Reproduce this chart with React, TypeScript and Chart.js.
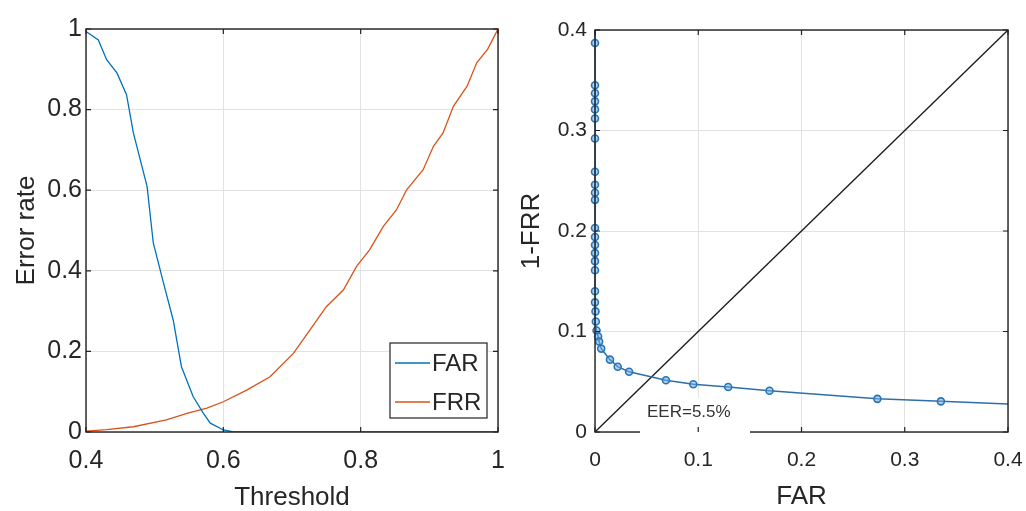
import React, { useEffect, useRef } from "react";
import { Chart, registerables } from "chart.js";
Chart.register(...registerables);

const FONT = "'Liberation Sans', Arial, Helvetica, sans-serif";
const TEXT = "#262626";
const GRID = "#e2e2e2";
const BLUE = "#0072BD";
const ORANGE = "#D95319";

// ---- Left panel: error rates vs threshold ----
const farThreshold = [0.4, 0.418, 0.43, 0.445, 0.459, 0.469, 0.489, 0.498, 0.513, 0.527, 0.539, 0.556, 0.571, 0.581, 0.6, 0.615, 1.0];
const farValues = [0.994, 0.973, 0.924, 0.891, 0.837, 0.742, 0.609, 0.469, 0.369, 0.278, 0.162, 0.088, 0.046, 0.022, 0.005, 0, 0];
const frrThreshold = [0.4, 0.43, 0.469, 0.517, 0.547, 0.576, 0.6, 0.634, 0.668, 0.702, 0.726, 0.75, 0.775, 0.794, 0.813, 0.833, 0.852, 0.867, 0.891, 0.906, 0.92, 0.935, 0.955, 0.969, 0.985, 1.0];
const frrValues = [0.002, 0.006, 0.013, 0.03, 0.046, 0.059, 0.075, 0.104, 0.137, 0.195, 0.253, 0.311, 0.353, 0.411, 0.452, 0.51, 0.551, 0.601, 0.651, 0.709, 0.742, 0.808, 0.858, 0.916, 0.95, 1.0];
const leftXTicks = [0.4, 0.6, 0.8, 1];
const leftYTicks = [0, 0.2, 0.4, 0.6, 0.8, 1];

// ---- Right panel: ROC (FAR vs 1-FRR) ----
const rocFar = [0, 0, 0, 0, 0, 0, 0, 0, 0, 0, 0, 0, 0, 0, 0, 0, 0, 0, 0, 0, 0.0005, 0.0008, 0.0015, 0.003, 0.004, 0.006, 0.0145, 0.022, 0.033, 0.0687, 0.0952, 0.129, 0.169, 0.2735, 0.335, 0.45];
const rocGar = [0.45, 0.387, 0.345, 0.337, 0.329, 0.321, 0.312, 0.292, 0.259, 0.246, 0.238, 0.231, 0.203, 0.194, 0.186, 0.178, 0.17, 0.161, 0.14, 0.129, 0.12, 0.11, 0.101, 0.095, 0.09, 0.083, 0.072, 0.065, 0.06, 0.0515, 0.0475, 0.0448, 0.041, 0.033, 0.0305, 0.026];
const diagFar = [0, 0.4];
const diagGar = [0, 0.4];
const rightTicks = [0, 0.1, 0.2, 0.3, 0.4];
const eerLabel = "EER=5.5%";

type Extra = (chart: any) => void;

function framePlugin(extraBeforeTicks?: Extra) {
  return {
    id: "frame",
    afterDatasetsDraw(chart: any) {
      const { ctx, chartArea: a, scales } = chart;
      ctx.save();
      ctx.strokeStyle = "#222";
      ctx.lineWidth = 1.4;
      ctx.strokeRect(a.left, a.top, a.right - a.left, a.bottom - a.top);
      if (extraBeforeTicks) extraBeforeTicks(chart);
      ctx.strokeStyle = "#222";
      ctx.lineWidth = 1.2;
      const L = 5;
      ctx.beginPath();
      scales.x.ticks.forEach((t: any) => {
        const p = scales.x.getPixelForValue(t.value);
        ctx.moveTo(p, a.bottom);
        ctx.lineTo(p, a.bottom - L);
        ctx.moveTo(p, a.top);
        ctx.lineTo(p, a.top + L);
      });
      scales.y.ticks.forEach((t: any) => {
        const p = scales.y.getPixelForValue(t.value);
        ctx.moveTo(a.left, p);
        ctx.lineTo(a.left + L, p);
        ctx.moveTo(a.right, p);
        ctx.lineTo(a.right - L, p);
      });
      ctx.stroke();
      ctx.restore();
    },
  };
}

const drawLegend: Extra = (chart) => {
  const ctx = chart.ctx;
  const bx = 390, by = 343, bw = 97, bh = 75;
  ctx.fillStyle = "#fff";
  ctx.fillRect(bx, by, bw, bh);
  ctx.strokeStyle = "#222";
  ctx.lineWidth = 1.2;
  ctx.strokeRect(bx, by, bw, bh);
  chart.data.datasets.forEach((ds: any, i: number) => {
    const y = 363 + i * 39;
    ctx.strokeStyle = ds.borderColor;
    ctx.lineWidth = 1.3;
    ctx.beginPath();
    ctx.moveTo(395, y);
    ctx.lineTo(430, y);
    ctx.stroke();
    ctx.fillStyle = TEXT;
    ctx.font = `24px ${FONT}`;
    ctx.textBaseline = "middle";
    ctx.textAlign = "left";
    ctx.fillText(ds.label, 432, y + 1);
  });
};

const drawEER: Extra = (chart) => {
  const ctx = chart.ctx;
  ctx.fillStyle = "#fff";
  ctx.fillRect(122, 398, 110, 38);
  ctx.fillStyle = "#333";
  ctx.font = `17px ${FONT}`;
  ctx.textBaseline = "middle";
  ctx.textAlign = "left";
  ctx.fillText(eerLabel, 129, 412);
};

const tickSetter = (vals: number[]) => (scale: any) => {
  scale.ticks = vals.map((v) => ({ value: v }));
};

function axis(opts: {
  min: number; max: number; ticks: number[]; size: number; padding: number;
  title: string; titlePad: any; fit: (s: any) => void;
}) {
  return {
    type: "linear",
    min: opts.min,
    max: opts.max,
    afterBuildTicks: tickSetter(opts.ticks),
    afterFit: (s: any) => {
      opts.fit(s);
      s.paddingLeft = 0;
      s.paddingRight = 0;
      s.paddingTop = 0;
      s.paddingBottom = 0;
    },
    grid: { color: GRID, lineWidth: 1, drawTicks: false },
    border: { display: false },
    ticks: {
      font: { family: FONT, size: opts.size },
      color: TEXT,
      padding: opts.padding,
      callback: (v: any) => String(v),
    },
    title: {
      display: true,
      text: opts.title,
      color: TEXT,
      font: { family: FONT, size: 26, lineHeight: 1 },
      padding: opts.titlePad,
    },
  };
}

function LeftChart() {
  const ref = useRef<HTMLCanvasElement>(null);
  useEffect(() => {
    const chart = new Chart(ref.current!, {
      type: "line",
      data: {
        datasets: [
          {
            label: "FAR",
            data: farThreshold.map((x, i) => ({ x, y: farValues[i] })),
            borderColor: BLUE,
            borderWidth: 1.3,
            pointRadius: 0,
            tension: 0,
          },
          {
            label: "FRR",
            data: frrThreshold.map((x, i) => ({ x, y: frrValues[i] })),
            borderColor: ORANGE,
            borderWidth: 1.3,
            pointRadius: 0,
            tension: 0,
          },
        ],
      },
      options: {
        responsive: false,
        animation: false,
        layout: { padding: { left: 0, right: 22, top: 29, bottom: 0 } },
        plugins: { legend: { display: false }, tooltip: { enabled: false } },
        scales: {
          x: axis({ min: 0.4, max: 1, ticks: leftXTicks, size: 25, padding: 14, title: "Threshold", titlePad: { top: 0, bottom: 0 }, fit: (s) => { s.height = 79; } }),
          y: axis({ min: 0, max: 1, ticks: leftYTicks, size: 25, padding: 4, title: "Error rate", titlePad: { top: 14, bottom: 0 }, fit: (s) => { s.width = 86; } }),
        } as any,
      },
      plugins: [framePlugin(drawLegend)],
    } as any);
    return () => chart.destroy();
  }, []);
  return <canvas ref={ref} width={520} height={511} style={{ position: "absolute", left: 0, top: 0 }} />;
}

function RightChart() {
  const ref = useRef<HTMLCanvasElement>(null);
  useEffect(() => {
    const last = rocFar.length - 1;
    const chart = new Chart(ref.current!, {
      type: "line",
      data: {
        datasets: [
          {
            label: "ROC",
            data: rocFar.map((x, i) => ({ x, y: rocGar[i] })),
            borderColor: "#2d6fab",
            borderWidth: 1.5,
            pointRadius: (c: any) => (c.dataIndex === 0 || c.dataIndex === last ? 0 : 3.5),
            pointBorderColor: "#2a74b4",
            pointBackgroundColor: "rgba(110,170,225,0.55)",
            pointBorderWidth: 1.6,
            tension: 0,
            clip: { left: 6, top: 0, right: 0, bottom: 0 },
          },
          {
            label: "Diagonal",
            data: diagFar.map((x, i) => ({ x, y: diagGar[i] })),
            borderColor: "#1a1a1a",
            borderWidth: 1.3,
            pointRadius: 0,
            tension: 0,
          },
        ],
      },
      options: {
        responsive: false,
        animation: false,
        layout: { padding: { left: 0, right: 18, top: 30, bottom: 0 } },
        plugins: { legend: { display: false }, tooltip: { enabled: false } },
        scales: {
          x: axis({ min: 0, max: 0.4, ticks: rightTicks, size: 21, padding: 16, title: "FAR", titlePad: { top: 0, bottom: 1 }, fit: (s) => { s.height = 79; } }),
          y: axis({ min: 0, max: 0.4, ticks: rightTicks, size: 21, padding: 8, title: "1-FRR", titlePad: { top: 1, bottom: 0 }, fit: (s) => { s.width = 77; } }),
        } as any,
      },
      plugins: [framePlugin(drawEER)],
    } as any);
    return () => chart.destroy();
  }, []);
  return <canvas ref={ref} width={508} height={511} style={{ position: "absolute", left: 518, top: 0 }} />;
}

export default function App() {
  return (
    <div style={{ position: "absolute", left: 0, top: 0, width: 1026, height: 511, background: "#fff", overflow: "hidden" }}>
      <LeftChart />
      <RightChart />
    </div>
  );
}
